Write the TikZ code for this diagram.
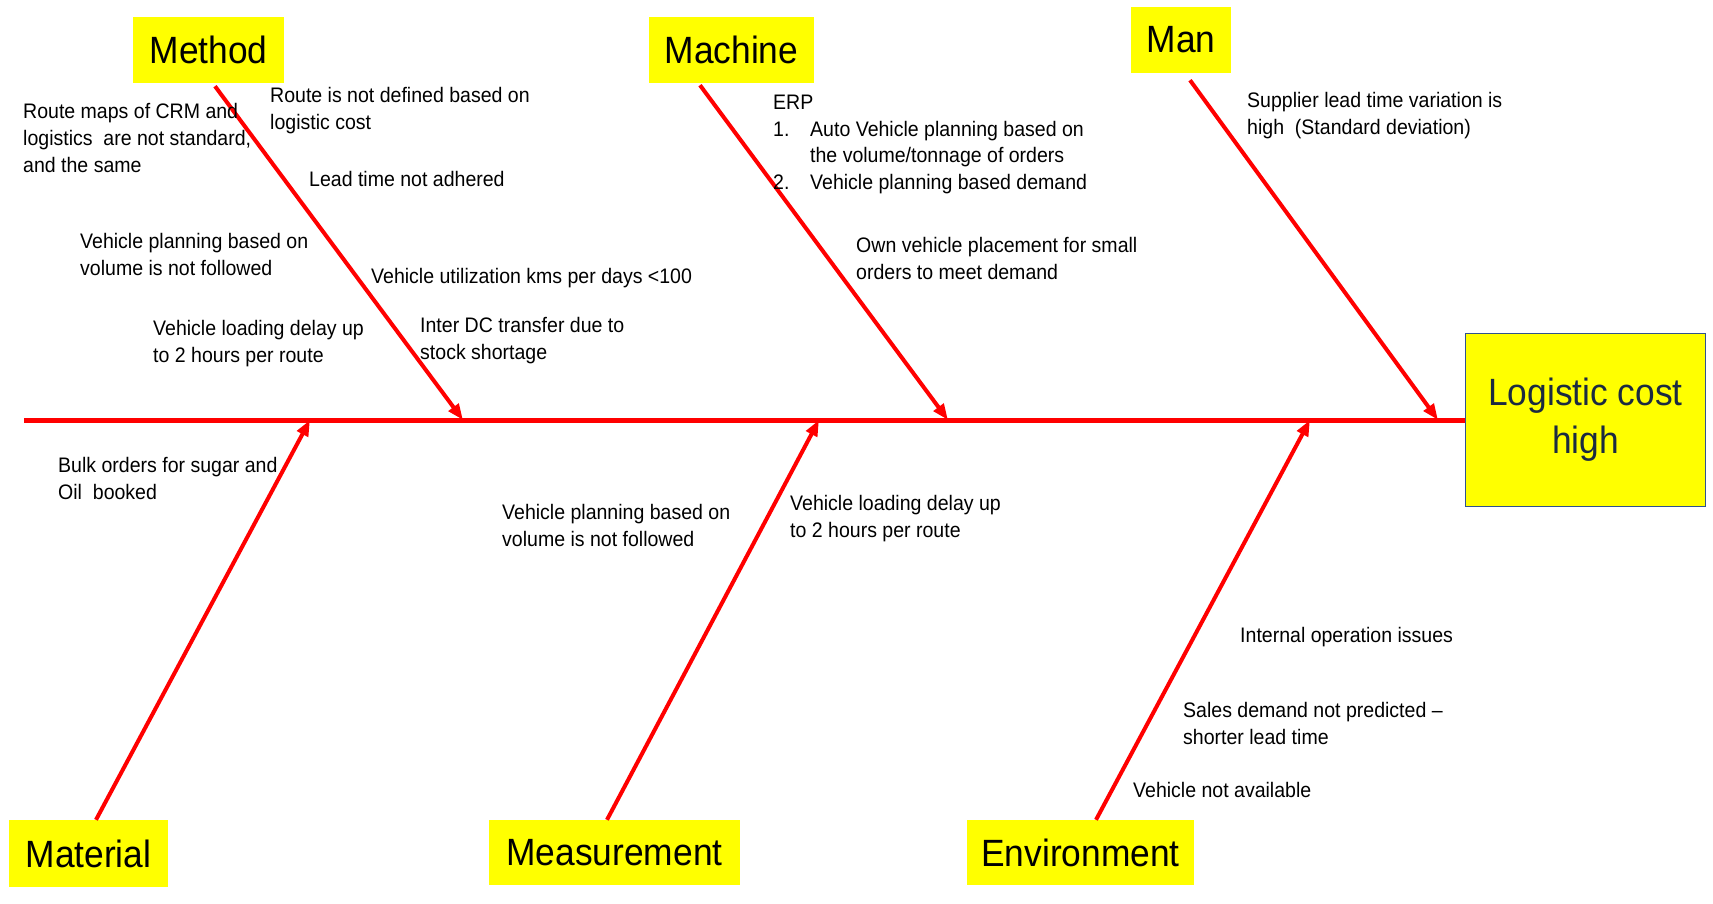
\documentclass[tikz,border=0pt]{standalone}
\usepackage{fontspec}
\setmainfont[FakeStretch=0.93]{Liberation Sans}
\usetikzlibrary{arrows.meta}
\definecolor{fishred}{HTML}{FF0000}
\definecolor{boxyellow}{HTML}{FFFF00}
\definecolor{rimblue}{HTML}{2F528F}
\definecolor{headnavy}{HTML}{1B2A41}

\begin{document}
\begin{tikzpicture}[x=1pt, y=-1pt,
		cat/.style={fill=boxyellow, inner sep=0pt, font=\fontsize{38}{46}\selectfont},
		cause/.style={anchor=base west, align=left, inner sep=0pt, font=\fontsize{21}{27}\selectfont},
		bone/.style={draw=fishred, line width=4pt, -{Triangle[length=16pt, width=12pt]}}]
			%%%%% START %%%%%
			\useasboundingbox (0, 0) rectangle (1713, 904);
			
			\node[draw=rimblue, line width=1.6pt, fill=boxyellow, text=headnavy, align=center,
				minimum width=240pt, minimum height=173pt, font=\fontsize{38}{48}\selectfont] (eff) at (1585.5, 420) {Logistic cost\\high};
			
			\node[cat, minimum width=151pt, minimum height=66pt] (mth) at (208.5, 50) {Method};
			\node[cat, minimum width=165pt, minimum height=66pt] (mch) at (731.5, 50) {Machine};
			\node[cat, minimum width=100pt, minimum height=66pt] (man) at (1181, 40) {Man};
			\node[cat, minimum width=159pt, minimum height=67pt] (mat) at (88.5, 853.5) {Material};
			\node[cat, minimum width=251pt, minimum height=65pt] (mea) at (614.5, 852.5) {Measurement};
			\node[cat, minimum width=227pt, minimum height=65pt] (env) at (1080.5, 852.5) {Environment};
			
			% spine
			\coordinate (tail) at (24, 420);
			\draw[fishred, line width=5pt] (tail) -- (eff.west);
			
			\coordinate (hMth) at (463, 420);
			\coordinate (hMch) at (948, 420);
			\coordinate (hMan) at (1438, 420);
			\coordinate (hMat) at (310, 420);
			\coordinate (hMea) at (819, 420);
			\coordinate (hEnv) at (1310, 420);
			
			\draw[bone] ([xshift=6.5pt, yshift=-3pt]mth.south) -- (hMth);
			\draw[bone] ([xshift=-31.5pt, yshift=-2pt]mch.south) -- (hMch);
			\draw[bone] ([xshift=9pt, yshift=-7pt]man.south) -- (hMan);
			\draw[bone] ([xshift=7.5pt]mat.north) -- (hMat);
			\draw[bone] ([xshift=-7.5pt]mea.north) -- (hMea);
			\draw[bone] ([xshift=15.5pt]env.north) -- (hEnv);
			
			% method (base = last line)
			\node[cause] (routemap) at (23, 173) {Route maps of CRM and\\logistics~ are not standard,\\and the same};
			\node[cause] (routecost) at (270, 130) {Route is not defined based on\\logistic cost};
			\node[cause] (leadtime) at (309, 187) {Lead time not adhered};
			\node[cause] (volplan) at (80, 275) {Vehicle planning based on\\volume is not followed};
			\node[cause] (kmsday) at (371, 283) {Vehicle utilization kms per days <100};
			\node[cause] (loaddelay) at (153, 362) {Vehicle loading delay up\\to 2 hours per route};
			\node[cause] (interdc) at (420, 359) {Inter DC transfer due to\\stock shortage};
			
			% machine
			\node[cause] (erp) at (773, 190) {ERP\\\makebox[37pt][l]{1.}Auto Vehicle planning based on\\\hspace*{37pt}the volume/tonnage of orders\\\makebox[37pt][l]{2.}Vehicle planning based demand};
			\node[cause] (ownveh) at (856, 279) {Own vehicle placement for small\\orders to meet demand};
			
			% man
			\node[cause] (supplier) at (1247, 135) {Supplier lead time variation is\\high~ (Standard deviation)};
			
			% material, measurement
			\node[cause] (bulk) at (58, 499) {Bulk orders for sugar and\\Oil~ booked};
			\node[cause] (volplanB) at (502, 546) {Vehicle planning based on\\volume is not followed};
			\node[cause] (loaddelayB) at (790, 537) {Vehicle loading delay up\\to 2 hours per route};
			
			% environment
			\node[cause] (internal) at (1240, 642) {Internal operation issues};
			\node[cause] (sales) at (1183, 744) {Sales demand not predicted –\\shorter lead time};
			\node[cause] (noveh) at (1133, 797) {Vehicle not available};
			
			%%%%% END %%%%%
		\end{tikzpicture}
\end{document}
